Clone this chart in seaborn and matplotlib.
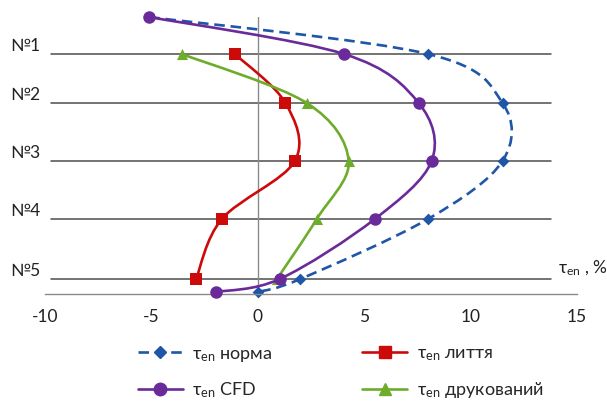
import numpy as np
import pandas as pd
import matplotlib
matplotlib.use("Agg")
import matplotlib.pyplot as plt
from matplotlib.path import Path
from matplotlib.patches import PathPatch
from matplotlib.lines import Line2D
import seaborn as sns

# ---- data ----
level_labels = ["№1", "№2", "№3", "№4", "№5"]
level_y = [24.0, 19.1, 13.3, 7.5, 1.5]
top_y = 27.7
bottom_y = 0.2

norma_x = [-5.1, 8.0, 11.5, 11.5, 8.0, 2.0, 0.0]
norma_y = [top_y] + level_y + [bottom_y]
cfd_x = [-5.1, 4.05, 7.56, 8.17, 5.5, 1.03, -1.97]
cfd_y = [top_y] + level_y + [bottom_y]
lyttia_x = [-1.08, 1.3, 1.74, -1.69, -2.9]
lyttia_y = level_y
druk_x = [-3.57, 2.3, 4.27, 2.77, 0.9]
druk_y = level_y

sns.set_theme(style="white")
plt.rcParams['font.family'] = ['Lato', 'DejaVu Sans']
plt.rcParams['axes.unicode_minus'] = False
plt.rcParams['mathtext.default'] = 'regular'

fig = plt.figure(figsize=(6.07, 4.01), dpi=100)
ax = fig.add_axes([45/607, 1 - 294/401, 532/607, 277/401])
ax.set_xlim(-10, 15)
ax.set_ylim(0, top_y)

# level lines
for lab, y in zip(level_labels, level_y):
    ax.plot([-9.72, 13.76], [y, y], color='#4d4d4d', lw=1.1, zorder=1, clip_on=False)
    ax.text(-10.2, y, lab, ha='right', va='bottom', fontsize=12.5, color='#222222', clip_on=False)
ax.axvline(0, color='#8a8a8a', lw=1.0, zorder=1)

def smooth(xs, ys):
    pts = np.column_stack([xs, ys]).astype(float)
    n = len(pts)
    verts = [pts[0]]
    codes = [Path.MOVETO]
    for i in range(n - 1):
        p0 = pts[i - 1] if i > 0 else pts[i]
        p1 = pts[i]
        p2 = pts[i + 1]
        p3 = pts[i + 2] if i + 2 < n else pts[i + 1]
        c1 = p1 + (p2 - p0) / 6
        c2 = p2 - (p3 - p1) / 6
        verts += [c1, c2, p2]
        codes += [Path.CURVE4] * 3
    return Path(verts, codes)

blue = '#1F56A8'
red = '#CC0A0A'
purple = '#6B2A9A'
green = '#6EAC2C'

series = [
    ("норма", norma_x, norma_y, blue, 'D', 6, (0, (4, 2.2)), 2),
    ("лиття", lyttia_x, lyttia_y, red, 's', 8, '-', 3),
    ("друкований", druk_x, druk_y, green, '^', 8, '-', 4),
    ("CFD", cfd_x, cfd_y, purple, 'o', 9, '-', 5),
]

for name, xs, ys, col, mk, ms, ls, z in series:
    patch = PathPatch(smooth(xs, ys), facecolor='none', edgecolor=col, lw=1.9,
                      linestyle=ls, zorder=z, clip_on=False)
    ax.add_patch(patch)
    df = pd.DataFrame({"x": xs, "y": ys})
    sns.scatterplot(data=df, x="x", y="y", ax=ax, marker=mk, s=ms**2, color=col,
                    edgecolor=col, linewidth=0, zorder=z + 0.5, legend=False,
                    clip_on=False)

ax.set_xticks([-10, -5, 0, 5, 10, 15])
ax.set_xticklabels(['-10', '-5', '0', '5', '10', '15'])
ax.set_yticks([])
ax.set_xlabel('')
ax.set_ylabel('')
for s in ['top', 'right', 'left']:
    ax.spines[s].set_visible(False)
ax.spines['bottom'].set_color('#8a8a8a')
ax.spines['bottom'].set_linewidth(1.0)
ax.tick_params(axis='x', direction='out', length=5, width=1, color='#8a8a8a',
               labelsize=12.5, labelcolor='#222222', pad=6)

ax.text(14.1, level_y[-1] + 0.1, r'τ$_{en}$ , %', ha='left', va='bottom',
        fontsize=12.5, color='#222222', clip_on=False)

handles = [
    Line2D([], [], color=blue, lw=1.9, linestyle=(0, (4, 2.2)), marker='D', markersize=6),
    Line2D([], [], color=purple, lw=1.9, marker='o', markersize=9),
    Line2D([], [], color=red, lw=1.9, marker='s', markersize=8),
    Line2D([], [], color=green, lw=1.9, marker='^', markersize=8),
]
labels = [r'τ$_{en}$ норма', r'τ$_{en}$ CFD', r'τ$_{en}$ лиття', r'τ$_{en}$ друкований']
fig.legend(handles, labels, ncol=2, loc='upper left', bbox_to_anchor=(134/607, 1 - 342/401),
           frameon=False, fontsize=13, handlelength=2.5, columnspacing=5.0,
           labelspacing=0.95, handletextpad=0.5, borderaxespad=0, borderpad=0.2)

fig.savefig('out.png', dpi=100)
